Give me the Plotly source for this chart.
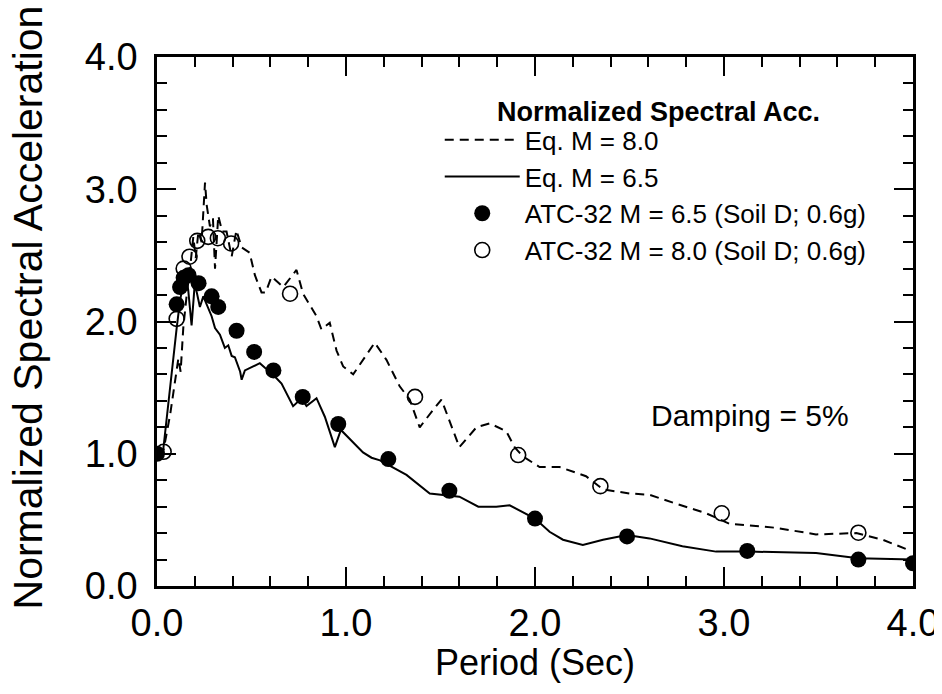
import plotly.graph_objects as go

# ---------------- data ----------------
period_m80 = [0.000, 0.035, 0.070, 0.100, 0.113, 0.125, 0.139, 0.157, 0.175, 0.192,
              0.205, 0.219, 0.236, 0.254, 0.263, 0.280, 0.296, 0.307, 0.324, 0.345,
              0.368, 0.395, 0.420, 0.448, 0.490, 0.518, 0.553, 0.575, 0.606, 0.668,
              0.738, 0.773, 0.844, 0.870, 0.914, 0.950, 0.985, 1.038, 1.152, 1.214,
              1.284, 1.337, 1.390, 1.460, 1.505, 1.600, 1.690, 1.760, 1.848, 1.892,
              1.936, 2.024, 2.130, 2.270, 2.360, 2.500, 2.606, 2.730, 2.905, 3.030,
              3.275, 3.487, 3.700, 3.840, 3.980]
sa_m80 = [1.00, 1.03, 1.30, 1.58, 1.72, 1.62, 1.95, 2.20, 2.40, 2.64,
          2.48, 2.68, 2.60, 3.05, 2.88, 2.72, 2.78, 2.40, 2.80, 2.68,
          2.68, 2.49, 2.69, 2.56, 2.52, 2.35, 2.22, 2.22, 2.34, 2.26,
          2.39, 2.21, 2.04, 1.94, 1.99, 1.78, 1.66, 1.60, 1.84, 1.71,
          1.51, 1.41, 1.20, 1.33, 1.41, 1.05, 1.20, 1.23, 1.17, 1.05,
          0.98, 0.90, 0.90, 0.83, 0.73, 0.70, 0.69, 0.63, 0.55, 0.47,
          0.44, 0.39, 0.40, 0.35, 0.27]

period_m65 = [0.000, 0.033, 0.104, 0.122, 0.148, 0.165, 0.183, 0.200, 0.227, 0.245,
              0.289, 0.307, 0.333, 0.359, 0.377, 0.395, 0.412, 0.440, 0.448, 0.465,
              0.509, 0.544, 0.571, 0.606, 0.659, 0.720, 0.765, 0.791, 0.844, 0.888,
              0.941, 0.973, 1.090, 1.135, 1.180, 1.320, 1.443, 1.496, 1.600, 1.700,
              1.795, 1.866, 2.000, 2.077, 2.148, 2.253, 2.360, 2.486, 2.606, 2.780,
              2.958, 3.134, 3.487, 3.710, 4.000]
sa_m65 = [1.00, 1.03, 1.95, 2.16, 2.35, 2.24, 1.97, 2.29, 2.11, 2.19,
          2.04, 1.95, 1.90, 1.80, 1.82, 1.74, 1.73, 1.62, 1.56, 1.63,
          1.66, 1.685, 1.65, 1.61, 1.53, 1.36, 1.42, 1.36, 1.42, 1.28,
          1.05, 1.18, 1.01, 0.97, 0.95, 0.84, 0.70, 0.69, 0.675, 0.60,
          0.60, 0.61, 0.51, 0.41, 0.35, 0.31, 0.35, 0.385, 0.36, 0.30,
          0.26, 0.26, 0.25, 0.21, 0.20]

period_atc65 = [0.000, 0.104, 0.122, 0.141, 0.167, 0.220, 0.289, 0.324, 0.421, 0.514,
                0.616, 0.771, 0.959, 1.224, 1.547, 2.000, 2.487, 3.123, 3.711, 4.000]
sa_atc65 = [1.00, 2.13, 2.26, 2.33, 2.35, 2.29, 2.19, 2.11, 1.93, 1.77,
            1.63, 1.43, 1.225, 0.96, 0.72, 0.51, 0.375, 0.265, 0.20, 0.172]

period_atc80 = [0.035, 0.104, 0.141, 0.172, 0.213, 0.271, 0.322, 0.392, 0.704, 1.365,
                1.911, 2.346, 2.988, 3.711]
sa_atc80 = [1.015, 2.02, 2.40, 2.49, 2.61, 2.64, 2.63, 2.59, 2.21, 1.43,
            0.99, 0.755, 0.55, 0.403]

tick_vals = [0, 1, 2, 3, 4]
tick_labels = ["0.0", "1.0", "2.0", "3.0", "4.0"]

series_names = ["Eq. M = 8.0", "Eq. M = 6.5",
                "ATC-32 M = 6.5 (Soil D; 0.6g)", "ATC-32 M = 8.0 (Soil D; 0.6g)"]

FONT = "Liberation Sans, Arial, sans-serif"

fig = go.Figure()
fig.add_trace(go.Scatter(x=period_m80, y=sa_m80, mode="lines", name=series_names[0],
                         line=dict(color="black", width=2, dash="9px,6px")))
fig.add_trace(go.Scatter(x=period_m65, y=sa_m65, mode="lines", name=series_names[1],
                         line=dict(color="black", width=2)))
fig.add_trace(go.Scatter(x=period_atc65, y=sa_atc65, mode="markers", name=series_names[2],
                         marker=dict(symbol="circle", size=16, color="black")))
fig.add_trace(go.Scatter(x=period_atc80, y=sa_atc80, mode="markers", name=series_names[3],
                         marker=dict(symbol="circle-open", size=15, color="black",
                                     line=dict(width=1.6, color="black"))))

axis_common = dict(
    showline=True, linewidth=2.5, linecolor="black", mirror="ticks",
    ticks="inside", ticklen=19, tickwidth=2, tickcolor="black",
    showgrid=False, zeroline=False,
    tickfont=dict(family=FONT, size=38, color="black"),
    minor=dict(ticks="inside", ticklen=10, tickwidth=2, tickcolor="black",
               dtick=0.2, tick0=0, showgrid=False),
)

fig.update_xaxes(range=[0, 4], tickvals=tick_vals, ticktext=tick_labels,
                 ticklabelstandoff=2, **axis_common)
fig.update_yaxes(range=[0, 4], tickvals=tick_vals, ticktext=tick_labels,
                 ticklabelstandoff=9, **axis_common)

# axis titles as annotations (positioned as in the original)
fig.add_annotation(text="Normalized Spectral Acceleration", xref="paper", yref="paper",
                   x=-0.171, y=0.526, xanchor="center", yanchor="middle",
                   textangle=-90, showarrow=False,
                   font=dict(family=FONT, size=41, color="black"))
fig.add_annotation(text="Period (Sec)", xref="paper", yref="paper",
                   x=0.5, y=-0.1437, xanchor="center", yanchor="middle",
                   showarrow=False, font=dict(family=FONT, size=36, color="black"))

fig.add_annotation(text="<b>Normalized Spectral Acc.</b>", xref="paper", yref="paper",
                   x=0.664, y=0.896, xanchor="center", yanchor="middle", showarrow=False,
                   font=dict(family=FONT, size=27, color="black"))
fig.add_annotation(text="Damping = 5%", x=3.137, y=1.293, xref="x", yref="y",
                   xanchor="center", yanchor="middle",
                   showarrow=False, font=dict(family=FONT, size=30, color="black"))

# page body has an 8px default margin, so margins are shifted by 8px
fig.update_layout(
    width=942, height=694,
    margin=dict(l=149, r=37, t=49, b=116),
    paper_bgcolor="white", plot_bgcolor="white",
    showlegend=True,
    legend=dict(x=0.374, y=0.888, xanchor="left", yanchor="top",
                bgcolor="rgba(0,0,0,0)", borderwidth=0,
                font=dict(family=FONT, size=26, color="black"),
                itemwidth=75, tracegroupgap=0),
)

fig.write_html("out.html")
